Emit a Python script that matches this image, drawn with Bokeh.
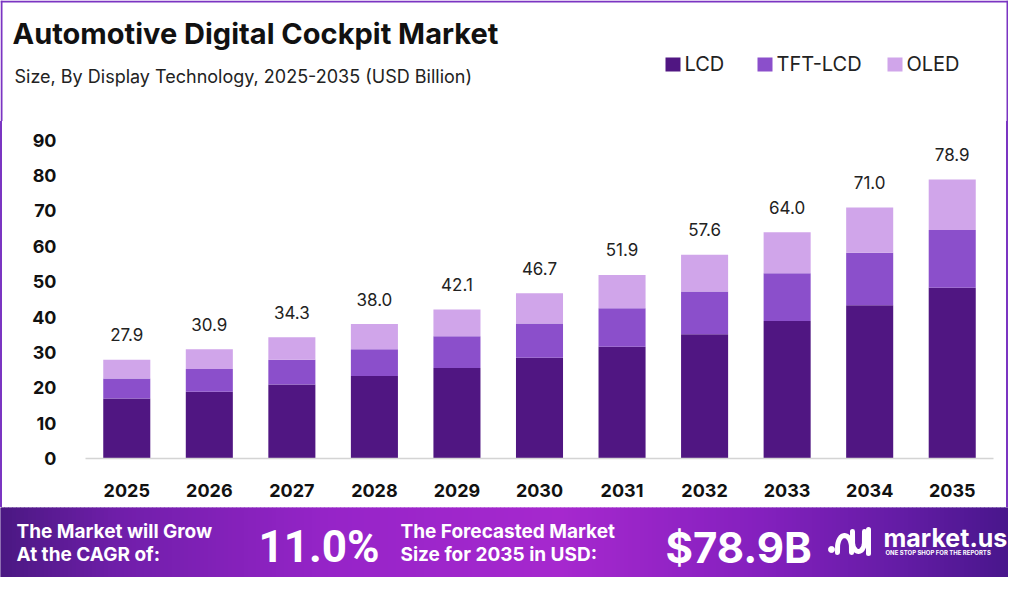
import numpy as np
from bokeh.plotting import figure
from bokeh.models import Range1d, FixedTicker, ColumnDataSource, Div
from bokeh.layouts import column, row
from bokeh.core.properties import value
from bokeh.embed import file_html
from bokeh.resources import INLINE

# ---------------- data ----------------
years = ["2025", "2026", "2027", "2028", "2029", "2030", "2031", "2032", "2033", "2034", "2035"]
lcd = [17.0, 18.9, 20.9, 23.3, 25.6, 28.5, 31.6, 35.1, 38.9, 43.3, 48.3]
tft_lcd = [5.6, 6.4, 7.0, 7.6, 9.0, 9.7, 10.9, 12.1, 13.5, 14.9, 16.3]
oled = [5.3, 5.6, 6.4, 7.1, 7.5, 8.5, 9.4, 10.4, 11.6, 12.8, 14.3]
totals = [27.9, 30.9, 34.3, 38.0, 42.1, 46.7, 51.9, 57.6, 64.0, 71.0, 78.9]
series_names = ["LCD", "TFT-LCD", "OLED"]
series_colors = ["#501682", "#8b4fcb", "#d0a5ea"]
y_ticks = [0, 10, 20, 30, 40, 50, 60, 70, 80, 90]

title_text = "Automotive Digital Cockpit Market"
subtitle_text = "Size, By Display Technology, 2025-2035 (USD Billion)"
cagr_text = ["The Market will Grow", "At the CAGR of:"]
cagr_value = "11.0%"
forecast_text = ["The Forecasted Market", "Size for 2035 in USD:"]
forecast_value = "$78.9B"
brand = "market.us"
brand_tag = "ONE STOP SHOP FOR THE REPORTS"

FONT = "Inter"
BORDER = "#7b35c2"
W = 1008
H_HEAD, H_CHART, H_BAN = 121, 386, 70
BL = 0.35  # text glyph baseline correction (fraction of font size)


def blank(h, w=W):
    f = figure(width=w, height=h, x_range=Range1d(0, w), y_range=Range1d(h, 0),
               output_backend="svg", toolbar_location=None, min_border=0,
               x_axis_location=None, y_axis_location=None, title=None)
    f.grid.visible = False
    f.outline_line_color = None
    f.background_fill_color = "white"
    f.border_fill_color = "white"
    return f


def put_text(f, xs, baselines, texts, size, bold=False, color="white", font=FONT, **kw):
    f.text(x=xs, y=[b - BL * size for b in baselines], text=texts, text_font=value(font),
           text_font_style="bold" if bold else "normal", text_font_size=f"{size}px",
           text_baseline="alphabetic", text_color=color, **kw)


# ---------------- header ----------------
head = blank(H_HEAD)
head.quad(left=[0, 0, W - 2], right=[W, 2, W], top=[0, 0, 0], bottom=[2, H_HEAD, H_HEAD],
          fill_color=BORDER, line_color=None)
put_text(head, [12], [43], [title_text], 29, bold=True, color="#111111")
put_text(head, [14], [82], [subtitle_text], 18, color="#222222")
leg_x = [665, 757, 887]
leg_src = ColumnDataSource(dict(l=leg_x, r=[x + 15 for x in leg_x],
                                tx=[x + 19 for x in leg_x], ty=[70 - BL * 20] * 3,
                                name=series_names, color=series_colors))
head.quad(left="l", right="r", top=57, bottom=71, fill_color="color", line_color=None,
          source=leg_src)
head.text(x="tx", y="ty", text="name", source=leg_src, text_font=value(FONT),
          text_font_size="20px", text_baseline="alphabetic", text_color="#222222")

# ---------------- chart ----------------
src = ColumnDataSource(dict(year=years, LCD=lcd, **{"TFT-LCD": tft_lcd}, OLED=oled,
                            total=totals, label=[f"{t:.1f}" for t in totals]))
p = figure(x_range=years, y_range=Range1d(0, 91.9), width=W - 4, height=H_CHART,
           output_backend="svg", toolbar_location=None, title=None,
           min_border_left=83, min_border_right=13, min_border_top=12, min_border_bottom=49)
p.vbar_stack(series_names, x="year", width=0.57, fill_color=series_colors,
             line_color=None, source=src)
p.text(x="year", y="total", text="label", source=src, y_offset=-25,
       text_align="center", text_baseline="alphabetic", text_font=value(FONT),
       text_font_size="17px", text_color="#222222")
p.grid.grid_line_color = None
p.outline_line_color = None
p.background_fill_color = "white"
p.border_fill_color = "white"

p.xaxis.axis_line_color = "#d4d4d4"
p.xaxis.axis_line_width = 1.5
p.xaxis.major_tick_line_color = None
p.xaxis.minor_tick_line_color = None
p.xaxis.major_label_standoff = 19
p.xaxis.major_label_text_font = FONT
p.xaxis.major_label_text_font_style = "bold"
p.xaxis.major_label_text_font_size = "18px"
p.xaxis.major_label_text_color = "#111111"

p.yaxis.ticker = FixedTicker(ticks=y_ticks)
p.yaxis.axis_line_color = None
p.yaxis.major_tick_line_color = None
p.yaxis.minor_tick_line_color = None
p.yaxis.major_label_standoff = 23
p.yaxis.major_label_text_font = FONT
p.yaxis.major_label_text_font_style = "bold"
p.yaxis.major_label_text_font_size = "18px"
p.yaxis.major_label_text_color = "#111111"

chart_row = row(Div(width=2, height=H_CHART, margin=(0, 0, 0, 0),
                    styles={"background-color": BORDER}),
                p,
                Div(width=2, height=H_CHART, margin=(0, 0, 0, 0),
                    styles={"background-color": BORDER}),
                spacing=0)

# ---------------- banner ----------------
ban = blank(H_BAN)
stops_x = np.array([0, 120, 330, 560, 760, 900, 1008])
stops_c = np.array([[74, 24, 130], [112, 30, 170], [150, 36, 200], [166, 40, 206],
                    [132, 32, 190], [100, 28, 165], [72, 22, 140]], dtype=float)
edges = np.arange(0, W + 4, 4)
mids = (edges[:-1] + edges[1:]) / 2
cols = [
    "#%02x%02x%02x" % tuple(int(round(np.interp(m, stops_x, stops_c[:, k]))) for k in range(3))
    for m in mids
]
ban.quad(left=edges[:-1], right=edges[1:], top=0, bottom=H_BAN, fill_color=cols, line_color=cols)

put_text(ban, [16, 16], [31, 54], cagr_text, 19, bold=True)
put_text(ban, [258], [55], [cagr_value], 44, bold=True, font="Roboto")
put_text(ban, [400, 400], [31, 54], forecast_text, 19, bold=True)
put_text(ban, [665], [55], [forecast_value], 42, bold=True)
# logo
t = np.linspace(0, np.pi, 20)
arch_x = list(844 + 7 * np.cos(np.pi - t))
arch_y = list(40 - 12 * np.sin(t))
cup_x = list(858 + 6 * np.cos(np.pi - t))
cup_y = list(34 + 10 * np.sin(t))
ban.multi_line(xs=[arch_x, cup_x, [868, 868]],
               ys=[[45] + arch_y[1:-1] + [45], [24] + cup_y[1:-1] + [24], [22, 46]],
               line_color="white", line_width=5, line_cap="round", line_join="round")
ban.scatter(x=[831], y=[42], size=6, color="white")
put_text(ban, [883], [39], [brand], 25, bold=True)
put_text(ban, [885], [47], [brand_tag], 6, bold=True)

layout = column(head, chart_row, ban, spacing=0)
open("out.html", "w").write(file_html(layout, INLINE))
